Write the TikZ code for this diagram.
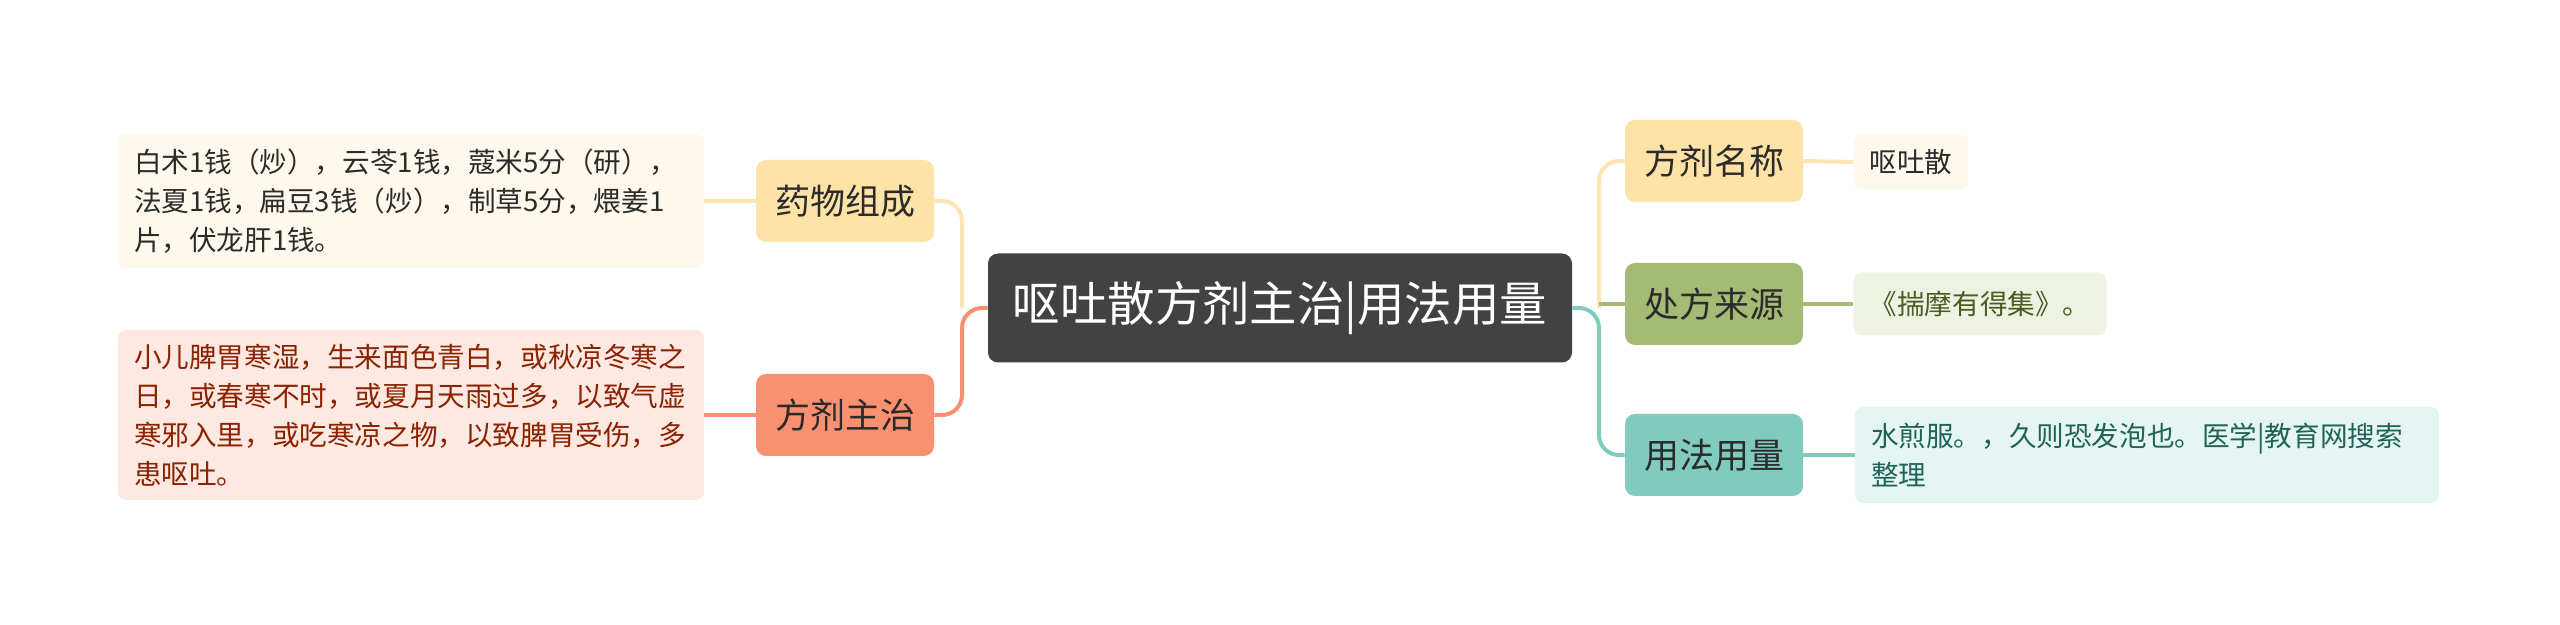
\documentclass[tikz,border=0pt]{standalone}
\usepackage{fontspec}
\setmainfont{Noto Sans CJK SC}
\definecolor{rootc}{HTML}{424242}
\definecolor{txt}{HTML}{2B2B2B}
\definecolor{ynode}{HTML}{FEE3A8}
\definecolor{yline}{HTML}{FCE5B2}
\definecolor{yleaf}{HTML}{FEF9EC}
\definecolor{rnode}{HTML}{F9906F}
\definecolor{rleaf}{HTML}{FDE8E2}
\definecolor{rtext}{HTML}{8B2200}
\definecolor{gnode}{HTML}{A5BB75}
\definecolor{gleaf}{HTML}{EEF2E3}
\definecolor{gtext}{HTML}{4A5A22}
\definecolor{tnode}{HTML}{80CBBE}
\definecolor{tleaf}{HTML}{E5F5F2}
\definecolor{ttext}{HTML}{1F6357}
\begin{document}
\begin{tikzpicture}[x=1pt,y=-1pt,
  root/.style={fill=rootc, rounded corners=5pt, text=white, font=\fontsize{23.7}{28}\selectfont, minimum width=292pt, minimum height=54.5pt, inner sep=0pt},
  topic/.style={rounded corners=5pt, font=\fontsize{17.5}{21}\selectfont, text=txt, minimum width=89pt, minimum height=41pt, inner sep=0pt},
  leaf/.style={rounded corners=4pt, font=\fontsize{13.8}{19.5}\selectfont, inner xsep=8pt, inner ysep=0pt, align=left},
  link/.style={line width=2pt, rounded corners=10pt}]
\useasboundingbox (0,0) rectangle (1280,312.5);

% nodes
\node[root] (root) at (640,154) {呕吐散方剂主治|用法用量};
\node[topic, fill=ynode] (t1) at (422.5,100.5) {药物组成};
\node[topic, fill=rnode] (t2) at (422.5,207.5) {方剂主治};
\node[topic, fill=ynode] (t3) at (857,80.5) {方剂名称};
\node[topic, fill=gnode] (t4) at (857,152) {处方来源};
\node[topic, fill=tnode] (t5) at (857,227.5) {用法用量};

\node[leaf, fill=yleaf, text=txt, text width=277pt, minimum height=67pt] (l1) at (205.5,100.5)
  {白术1钱（炒），云苓1钱，蔻米5分（研），\\法夏1钱，扁豆3钱（炒），制草5分，煨姜1\\片，伏龙肝1钱。};
\node[leaf, fill=rleaf, text=rtext, text width=277pt, minimum height=85pt] (l2) at (205.5,207.5)
  {小儿脾胃寒湿，生来面色青白，或秋凉冬寒之\\日，或春寒不时，或夏月天雨过多，以致气虚\\寒邪入里，或吃寒凉之物，以致脾胃受伤，多\\患呕吐。};
\node[leaf, fill=yleaf, text=txt, minimum width=56pt, minimum height=27.5pt] (l3) at (955.5,81) {呕吐散};
\node[leaf, fill=gleaf, text=gtext, minimum width=125.5pt, minimum height=31.5pt] (l4) at (990,152) {《揣摩有得集》。};
\node[leaf, fill=tleaf, text=ttext, text width=276pt, minimum height=48pt] (l5) at (1073.5,227.5)
  {水煎服。，久则恐发泡也。医学|教育网搜索\\整理};

% junctions
\coordinate (jl) at (481,154);
\coordinate (jr) at (799.5,154);

% connectors
\draw[link, yline] (jl) |- (t1.east);
\draw[link, rnode] (root.west) -- (jl) |- (t2.east);
\draw[link, yline] (jr) |- (t3.west);
\draw[link, tnode] (root.east) -- (jr) |- (t5.west);
\draw[link, gnode] (jr |- t4.west) -- (t4.west);

\draw[link, yline] (t1.west) -- (l1.east);
\draw[link, rnode] (t2.west) -- (l2.east);
\draw[link, yline] (t3.east) -- (l3.west);
\draw[link, gnode] (t4.east) -- (l4.west);
\draw[link, tnode] (t5.east) -- (l5.west);
\end{tikzpicture}
\end{document}
